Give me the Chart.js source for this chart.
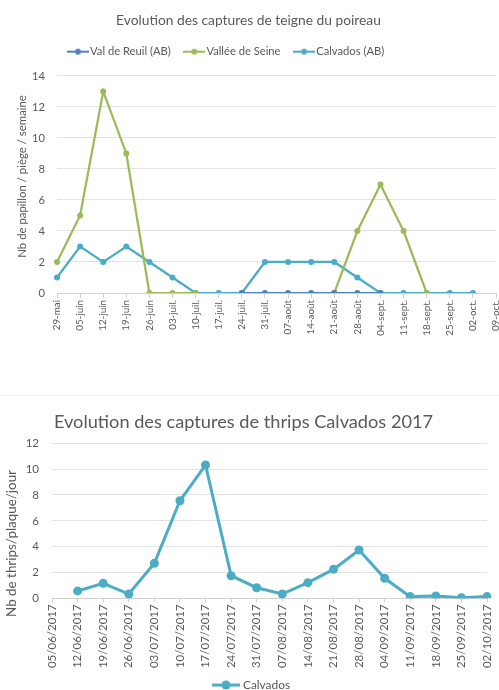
<!DOCTYPE html>
<html>
<head>
<meta charset="utf-8">
<script src="https://cdn.jsdelivr.net/npm/chart.js@4/dist/chart.umd.min.js"></script>
<style>
  html, body { margin: 0; padding: 0; background: #fff; width: 499px; height: 690px; overflow: hidden; }
  #c1 { position: absolute; left: 0; top: 0; }
  #c2 { position: absolute; left: 0; top: 396px; }
  #sep { position: absolute; left: 0; top: 395px; width: 499px; height: 0; border-top: 1px solid #f0f0f0; }
</style>
</head>
<body>
<canvas id="c1" width="499" height="396"></canvas>
<div id="sep"></div>
<canvas id="c2" width="499" height="305"></canvas>
<script>
// ---- Chart 1 data: teigne du poireau ----
const teigneCategories = ['29-mai','05-juin','12-juin','19-juin','26-juin','03-juil.','10-juil.','17-juil.','24-juil.','31-juil.','07-août','14-août','21-août','28-août','04-sept.','11-sept.','18-sept.','25-sept.','02-oct.','09-oct.'];
const valDeReuil   = [null,null,null,null,null,null,null,null,0,0,0,0,0,0,0,null,null,null,null,null];
const valleeSeine  = [2,5,13,9,0,0,0,null,null,null,null,null,0,4,7,4,0,null,null,null];
const calvadosAB   = [1,3,2,3,2,1,0,0,0,2,2,2,2,1,0,0,0,0,0,null];
const teigneTicks  = [0,2,4,6,8,10,12,14];

// ---- Chart 2 data: thrips Calvados 2017 ----
const thripsDates = ['05/06/2017','12/06/2017','19/06/2017','26/06/2017','03/07/2017','10/07/2017','17/07/2017','24/07/2017','31/07/2017','07/08/2017','14/08/2017','21/08/2017','28/08/2017','04/09/2017','11/09/2017','18/09/2017','25/09/2017','02/10/2017'];
const thripsCalvados = [null,0.57,1.16,0.33,2.71,7.55,10.32,1.75,0.82,0.33,1.21,2.24,3.74,1.55,0.13,0.18,0.05,0.13];
const thripsTicks = [0,2,4,6,8,10,12];

const FONT = 'Lato, "Open Sans", sans-serif';
const TXT = '#595959';
const GRID = '#e3e3e3';
const AXIS = '#d0d0d0';
const C_BLUE = '#4F81BD', C_GREEN = '#9BBB59', C_TEAL = '#4BACC6';

function legendIcon(color, w, h, lw, r) {
  const c = document.createElement('canvas');
  c.width = w; c.height = h;
  const x = c.getContext('2d');
  x.strokeStyle = color; x.lineWidth = lw;
  x.beginPath(); x.moveTo(0, h / 2); x.lineTo(w, h / 2); x.stroke();
  x.fillStyle = color;
  x.beginPath(); x.arc(w / 2, h / 2, r, 0, Math.PI * 2); x.fill();
  return c;
}
function legendWithIcons(iconFn) {
  return function (chart) {
    const items = Chart.defaults.plugins.legend.labels.generateLabels(chart);
    items.forEach(it => {
      const ds = chart.data.datasets[it.datasetIndex];
      it.pointStyle = iconFn(ds.borderColor);
      it.fontColor = TXT;
    });
    return items;
  };
}
// place the first legend icon's left edge at a given x, and nudge the y-axis title vertically
function tweaks(targetIconLeft, boxW, iconW, titleDy) {
  return { id: 'tweaks', afterLayout(chart) {
    const lg = chart.legend;
    if (lg && lg.lineWidths) {
      const pad = lg.options.labels.padding;
      const cursorX = (lg.left + pad + lg.right - lg.lineWidths[0]) / 2;
      const iconLeft = cursorX + boxW / 2 - iconW / 2;
      const dx = targetIconLeft - iconLeft;
      lg.left += dx; lg.right += dx;
    }
    const ys = chart.scales.y;
    if (ys && !ys._nudged) {
      const orig = ys.drawTitle;
      ys.drawTitle = function () {
        const ctx = this.ctx; ctx.save(); ctx.translate(0, titleDy); orig.apply(this, arguments); ctx.restore();
      };
      ys._nudged = true;
    }
  } };
}

// ---------- Chart 1 ----------
new Chart(document.getElementById('c1'), {
  type: 'line',
  data: {
    labels: teigneCategories,
    datasets: [
      { label: 'Val de Reuil (AB)', data: valDeReuil, borderColor: C_BLUE, backgroundColor: C_BLUE },
      { label: 'Vallée de Seine', data: valleeSeine, borderColor: C_GREEN, backgroundColor: C_GREEN },
      { label: 'Calvados (AB)', data: calvadosAB, borderColor: C_TEAL, backgroundColor: C_TEAL }
    ].map(d => Object.assign(d, { borderWidth: 2.25, pointRadius: 3, pointHoverRadius: 3, pointBorderWidth: 0, tension: 0, spanGaps: false }))
  },
  plugins: [tweaks(67, 13, 22, -8)],
  options: {
    responsive: false, animation: false, devicePixelRatio: 1,
    layout: { padding: { left: 0, right: 2, top: 0, bottom: 0 } },
    plugins: {
      tooltip: { enabled: false },
      title: { display: true, text: 'Evolution des captures de teigne du poireau', color: TXT,
               font: { family: FONT, size: 13.8, weight: 'normal' }, padding: { top: 12.4, bottom: 0 } },
      subtitle: { display: true, text: ' ', weight: 500, font: { size: 1 }, padding: { top: 0, bottom: 7.5 } },
      legend: { display: true, position: 'top',
        labels: { usePointStyle: true, pointStyleWidth: 13, padding: 17.1, color: TXT,
                  font: { family: FONT, size: 11.2 },
                  generateLabels: legendWithIcons(c => legendIcon(c, 22, 8, 2, 3)) } }
    },
    scales: {
      x: {
        type: 'category', offset: false,
        grid: { drawOnChartArea: false, drawTicks: true, tickLength: 5, color: AXIS },
        border: { display: true, color: AXIS },
        ticks: { autoSkip: false, minRotation: 90, maxRotation: 90, padding: 2, color: TXT, font: { family: FONT, size: 9.8 } },
        afterFit: s => { s.height = 103; s.paddingLeft = 0; s.paddingRight = 0; }
      },
      y: {
        min: 0, max: 14,
        afterBuildTicks: s => { s.ticks = teigneTicks.map(v => ({ value: v })); },
        grid: { color: GRID, drawTicks: false },
        border: { display: false },
        ticks: { padding: 12, color: TXT, font: { family: FONT, size: 11.2 } },
        title: { display: true, text: 'Nb de papillon / piège / semaine', color: TXT,
                 font: { family: FONT, size: 11.4 }, padding: { top: 15.2, bottom: 0 } },
        afterFit: s => { s.width = 57; s.paddingTop = 0; s.paddingBottom = 0; }
      }
    }
  }
});

// ---------- Chart 2 ----------
new Chart(document.getElementById('c2'), {
  type: 'line',
  data: {
    labels: thripsDates,
    datasets: [
      { label: 'Calvados', data: thripsCalvados, borderColor: C_TEAL, backgroundColor: C_TEAL,
        borderWidth: 3, pointRadius: 4.5, pointHoverRadius: 4.5, pointBorderWidth: 0, tension: 0, spanGaps: false }
    ]
  },
  plugins: [tweaks(212, 22, 28, 22.7)],
  options: {
    responsive: false, animation: false, devicePixelRatio: 1,
    layout: { padding: { left: 0, right: 12, top: 0, bottom: 0 } },
    plugins: {
      tooltip: { enabled: false },
      title: { display: true, text: 'Evolution des captures de thrips Calvados 2017', color: TXT,
               font: { family: FONT, size: 18.2, weight: 'normal' }, padding: { top: 14.8, bottom: 10.66 } },
      legend: { display: true, position: 'bottom',
        labels: { usePointStyle: true, pointStyleWidth: 22, padding: 8, color: TXT,
                  font: { family: FONT, size: 11.9 },
                  generateLabels: legendWithIcons(c => legendIcon(c, 28, 10, 3, 4.5)) } }
    },
    scales: {
      x: {
        type: 'category', offset: false,
        grid: { drawOnChartArea: false, drawTicks: true, tickLength: 4, color: AXIS },
        border: { display: true, color: AXIS },
        ticks: { autoSkip: false, minRotation: 90, maxRotation: 90, padding: 2, color: TXT, font: { family: FONT, size: 11.5 } },
        afterFit: s => { s.height = 72.8; s.paddingLeft = 0; s.paddingRight = 0; }
      },
      y: {
        min: 0, max: 12,
        afterBuildTicks: s => { s.ticks = thripsTicks.map(v => ({ value: v })); },
        grid: { color: GRID, drawTicks: false },
        border: { display: false },
        ticks: { padding: 13, color: TXT, font: { family: FONT, size: 11.5 } },
        title: { display: true, text: 'Nb de thrips/plaque/jour', color: TXT,
                 font: { family: FONT, size: 13.4 }, padding: { top: 4, bottom: 0 } },
        afterFit: s => { s.width = 52; s.paddingTop = 0; s.paddingBottom = 0; }
      }
    }
  }
});
</script>
</body>
</html>
